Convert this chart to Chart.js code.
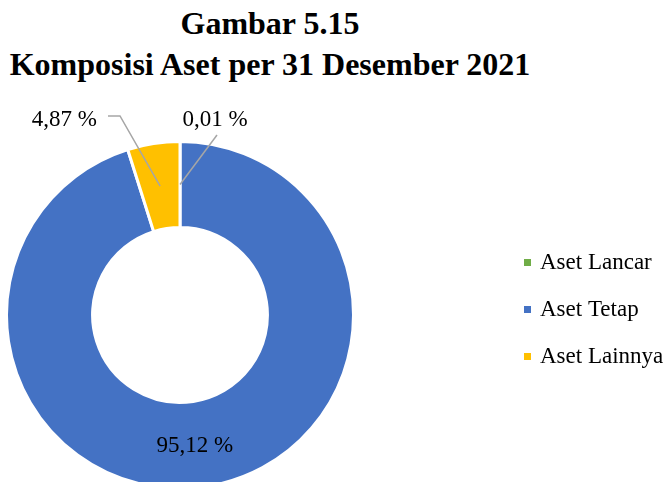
<!DOCTYPE html>
<html>
<head>
<meta charset="utf-8">
<script src="https://cdn.jsdelivr.net/npm/chart.js@4.4.0/dist/chart.umd.min.js"></script>
<style>
  body { margin: 0; background: #fff; overflow: hidden; }
  #wrap { position: relative; width: 669px; height: 482px; }
  #title {
    position: absolute; left: 0; top: 3px; width: 540px;
    text-align: center; font: bold 32px "Liberation Serif", "Times New Roman", serif;
    line-height: 41px; color: #000;
  }
  canvas { position: absolute; left: 0; top: 0; }
</style>
</head>
<body>
<div id="wrap">
  <div id="title">Gambar 5.15<br>Komposisi Aset per 31 Desember 2021</div>
  <canvas id="chart" width="669" height="482"></canvas>
</div>
<script>
// data
const categories = ['Aset Lancar', 'Aset Tetap', 'Aset Lainnya'];
const shares = [0.01, 95.12, 4.87];
const shareLabels = ['0,01 %', '95,12 %', '4,87 %'];
const sliceColors = ['#70AD47', '#4472C4', '#FFC000'];

const labelFont = '23px "Liberation Serif", "Times New Roman", serif';

// draws the value labels (with leader lines for the thin slices)
const sliceLabels = {
    id: 'sliceLabels',
    afterDatasetsDraw(chart) {
        const ctx = chart.ctx;
        const arcs = chart.getDatasetMeta(0).data;
        ctx.save();
        ctx.font = labelFont;
        ctx.fillStyle = '#000';
        ctx.textBaseline = 'alphabetic';
        ctx.strokeStyle = '#A6A6A6';
        ctx.lineWidth = 1.5;

        arcs.forEach((arc, i) => {
            const p = arc.getProps(['x', 'y', 'startAngle', 'endAngle', 'innerRadius', 'outerRadius'], true);
            const mid = (p.startAngle + p.endAngle) / 2;
            const r = (p.innerRadius + p.outerRadius) / 2;
            const mx = p.x + Math.cos(mid) * r;
            const my = p.y + Math.sin(mid) * r;

            if (i === 1) {
                // big slice: label sits inside the ring
                ctx.textAlign = 'center';
                ctx.fillText(shareLabels[i], mx - 5, my + 8);
            } else if (i === 2) {
                // left leader line with a short horizontal tail
                ctx.beginPath();
                ctx.moveTo(mx, my);
                ctx.lineTo(p.x - 60, p.y - 199);
                ctx.lineTo(p.x - 72, p.y - 199);
                ctx.stroke();
                ctx.textAlign = 'right';
                ctx.fillText(shareLabels[i], p.x - 83, p.y - 189);
            } else {
                ctx.beginPath();
                ctx.moveTo(mx, my);
                ctx.lineTo(p.x + 37, p.y - 180);
                ctx.stroke();
                ctx.textAlign = 'center';
                ctx.fillText(shareLabels[i], p.x + 35, p.y - 189);
            }
        });
        ctx.restore();
    }
};

// legend on the right, built from the chart's own labels and colours
const sideLegend = {
    id: 'sideLegend',
    afterDraw(chart) {
        const ctx = chart.ctx;
        const ds = chart.data.datasets[0];
        ctx.save();
        ctx.font = labelFont;
        ctx.textAlign = 'left';
        ctx.textBaseline = 'middle';
        chart.data.labels.forEach((lbl, i) => {
            const y = 262 + i * 47;
            ctx.fillStyle = ds.backgroundColor[i];
            ctx.fillRect(524, y - 3, 7, 7);
            ctx.fillStyle = '#000';
            ctx.fillText(lbl, 540, y + 1);
        });
        ctx.restore();
    }
};

new Chart(document.getElementById('chart'), {
    type: 'doughnut',
    data: {
        labels: categories,
        datasets: [{
            data: shares,
            backgroundColor: sliceColors,
            borderColor: '#FFFFFF',
            borderWidth: 3,
            radius: 173.5,
            cutout: '50.4%'
        }]
    },
    options: {
        responsive: false,
        animation: false,
        devicePixelRatio: 1,
        layout: { padding: { top: 148, right: 309, bottom: 0, left: 0 } },
        plugins: {
            legend: { display: false },
            title: { display: false },
            tooltip: { enabled: false }
        }
    },
    plugins: [sliceLabels, sideLegend]
});
</script>
</body>
</html>
